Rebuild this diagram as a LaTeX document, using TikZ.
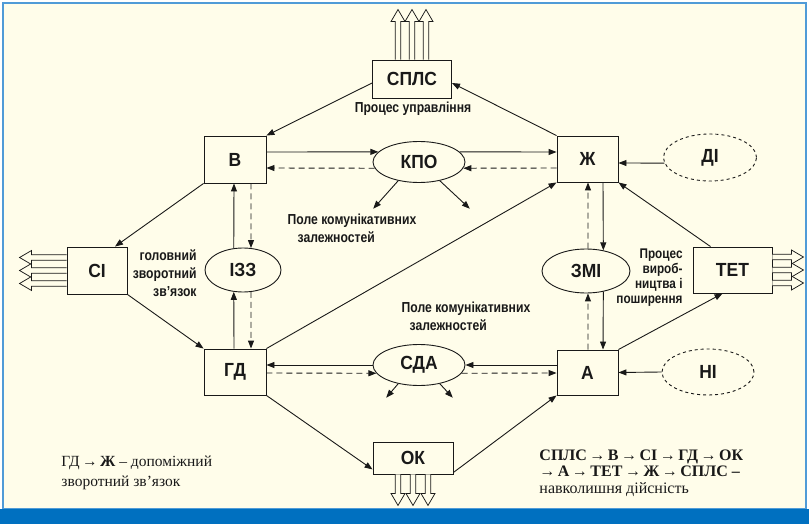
\documentclass[tikz,border=0pt]{standalone}
\usepackage{fontspec}
\setmainfont{Liberation Serif}
\newfontfamily\boxfont[FakeStretch=0.92]{Liberation Sans}
\newfontfamily\notefont[FakeStretch=0.84]{Liberation Sans}
\usetikzlibrary{arrows.meta,shapes.geometric}
\definecolor{paper}{RGB}{255,253,234}
\definecolor{bandblue}{RGB}{0,112,192}
\definecolor{rimblue}{RGB}{80,155,215}
\definecolor{ink}{RGB}{25,25,25}
% arrow inside the serif captions, with a little air around it
\newcommand{\nx}{\hspace{2.5pt}→\hspace{2.5pt}}
\begin{document}
\begin{tikzpicture}[x=1pt,y=-1pt,line width=0.9pt,draw=ink,
  tip/.style={-{Triangle[length=8pt,width=6pt]}},
  dashline/.style={dash pattern=on 6pt off 4pt},
  box/.style={draw, fill=paper, inner sep=0pt, text=ink,
    font=\boxfont\bfseries\fontsize{19}{21}\selectfont},
  oval/.style={draw, ellipse, fill=paper, inner sep=0pt, text=ink,
    font=\boxfont\bfseries\fontsize{19}{21}\selectfont},
  note/.style={inner sep=0pt, text=ink, font=\notefont\bfseries\fontsize{14.5}{18}\selectfont},
  pics/fatarrow/.style={code={
    \draw[fill=paper, line width=0.75pt]
      (-2.7,0) -- (-2.7,-#1) -- (-7,-#1) -- (0,-#1-12) -- (7,-#1) -- (2.7,-#1) -- (2.7,0);
  }},
]
% page, frame and bottom band
\useasboundingbox (0,0) rectangle (809,524);
\fill[white] (0,0) rectangle (809,524);
\draw[rimblue, fill=paper, line width=1.2pt] (3,3) rectangle (806,509);
\fill[bandblue] (0,508.5) rectangle (809,524);

% boxes and ovals
\node[box, minimum width=79pt, minimum height=38pt] (SPLS) at (412,79) {СПЛС};
\node[box, minimum width=62pt, minimum height=47pt] (V) at (235,159.5) {В};
\node[oval, minimum width=92pt, minimum height=41pt] (KPO) at (419,162) {КПО};
\node[box, minimum width=61pt, minimum height=46pt] (ZH) at (587.5,159) {Ж};
\node[oval, dashed, minimum width=93pt, minimum height=47pt] (DI) at (710,157.5) {ДІ};
\node[box, minimum width=60pt, minimum height=47pt] (SI) at (97,270.5) {СІ};
\node[oval, minimum width=76pt, minimum height=44pt] (IZZ) at (243,270) {ІЗЗ};
\node[oval, minimum width=88pt, minimum height=44pt] (ZMI) at (586,271) {ЗМІ};
\node[box, minimum width=79pt, minimum height=46pt] (TET) at (732.5,270) {ТЕТ};
\node[box, minimum width=62pt, minimum height=46pt] (GD) at (235,372) {ГД};
\node[oval, minimum width=92pt, minimum height=41pt] (SDA) at (419,365) {СДА};
\node[box, minimum width=61pt, minimum height=45pt] (A) at (587.5,372.5) {А};
\node[oval, dashed, minimum width=92pt, minimum height=46pt] (NI) at (708,372) {НІ};
\node[box, minimum width=80pt, minimum height=32pt] (OK) at (413,458) {ОК};

% outgoing hollow arrows
\foreach \d in {-14,0,14} \pic at ([xshift=\d pt]SPLS.north) {fatarrow=38};
\foreach \d in {13,0,-13} \pic[rotate=90] at ([yshift=\d pt]SI.west) {fatarrow=35};
\foreach \d in {13,0,-13} \pic[rotate=-90] at ([yshift=\d pt]TET.east) {fatarrow=19};
\foreach \d in {-15,0,15} \pic[rotate=180] at ([xshift=\d pt]OK.south) {fatarrow=19};

% outer loop
\draw[tip] ([yshift=-4pt]SPLS.west) -- (V.north east);
\draw[tip] (ZH.north west) -- ([yshift=-4pt]SPLS.east);
\draw[tip] (V.south west) -- ([xshift=18pt]SI.north);
\draw[tip] (SI.south east) -- (GD.north west);
\draw[tip] (GD.south east) -- ([yshift=5pt]OK.south west);
\draw[tip] ([yshift=2pt]OK.south east) -- (A.south west);
\draw[tip] (A.north east) -- ([xshift=-10pt]TET.south);
\draw[tip] ([xshift=-22pt]TET.north) -- (ZH.south east);
\draw[tip] (GD.north east) -- (ZH.south west);

% top row
\draw[tip] ([yshift=7.5pt]V.east) -- (KPO.166);
\draw[tip] (KPO.14) -- ([yshift=7pt]ZH.west);
\draw[tip, dashline] ([yshift=-9pt]ZH.west) -- (KPO.352);
\draw[tip, dashline] (KPO.188) -- ([yshift=-8.5pt]V.east);
\draw[tip] (KPO.222) -- ++(-25,28);
\draw[tip] (KPO.318) -- ++(30,28);
\draw[tip] (DI.187) -- ([yshift=-4pt]ZH.east);

% left column
\draw[tip] ([xshift=-1pt]GD.north) -- (IZZ.247);
\draw[tip] (IZZ.113) -- ([xshift=-1pt]V.south);
\draw[tip, dashline] ([xshift=16pt]V.south) -- (IZZ.70);
\draw[tip, dashline] (IZZ.290) -- ([xshift=16pt]GD.north);

% right column
\draw[tip] ([xshift=15.5pt]ZH.south) -- (ZMI.50);
\draw[tip] (ZMI.310) -- ([xshift=15.5pt]A.north);
\draw[tip, dashline] ([xshift=0.5pt]A.north) -- (ZMI.275);
\draw[tip, dashline] (ZMI.85) -- ([xshift=0.5pt]ZH.south);

% bottom row
\draw[tip] ([yshift=7.5pt]A.west) -- (SDA.east);
\draw[tip] (SDA.west) -- ([yshift=7pt]GD.east);
\draw[tip, dashline] ([yshift=-1pt]GD.east) -- (SDA.191);
\draw[tip, dashline] (SDA.349) -- ([yshift=-0.5pt]A.west);
\draw[tip] (SDA.222) -- ++(-12,14);
\draw[tip] (SDA.318) -- ++(13,14);
\draw[tip] (NI.west) -- (A.east);

% labels
\node[note] (pu) at (413,109) {Процес управління};
\node[note, align=left] (pk1) at (352,228) {Поле комунікативних\\\hspace*{10pt}залежностей};
\node[note, align=left] (pk2) at (466,316) {Поле комунікативних\\\hspace*{8pt}залежностей};
\node[note, align=right, anchor=east] (gz) at (197,273) {головний\\зворотний\\зв’язок};
\node[note, align=right, anchor=east, font=\notefont\bfseries\fontsize{14}{15}\selectfont] (pv) at (683,277.5) {Процес\\вироб-\\ництва і\\поширення};

\node[anchor=west, align=left, inner sep=0pt, text=ink, font=\fontsize{15.5}{20}\selectfont] (ll) at (61,473)
  {ГД\nx\textbf{Ж} – допоміжний\\зворотний зв’язок};
\node[anchor=west, align=left, inner sep=0pt, text=ink, font=\fontsize{16}{16.5}\selectfont] (rr) at (539,473)
  {\textbf{СПЛС\nx В\nx СІ\nx ГД\nx ОК}\\\textbf{→\hspace{2.5pt}А\nx ТЕТ\nx Ж\nx СПЛС –}\\навколишня дійсність};
\end{tikzpicture}
\end{document}
